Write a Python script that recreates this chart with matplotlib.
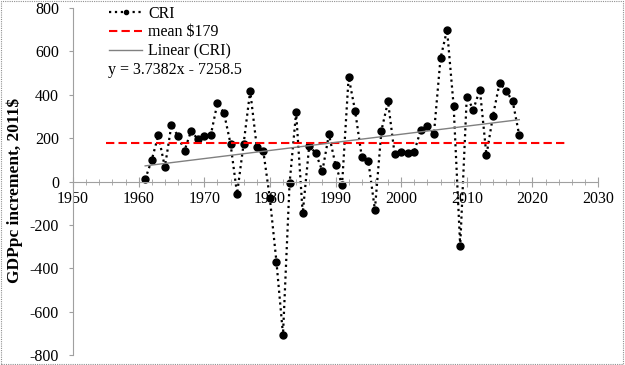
import numpy as np
import matplotlib
matplotlib.use("Agg")
import matplotlib.pyplot as plt
from matplotlib.ticker import MultipleLocator
from matplotlib.patches import Rectangle

plt.rcParams['font.family'] = ['Liberation Serif', 'DejaVu Serif']
plt.rcParams['font.size'] = 11.5
plt.rcParams['axes.unicode_minus'] = False

# data
years = np.arange(1961, 2019)
cri = [10, 100, 213, 66, 261, 209, 143, 234, 195, 209,
       215, 361, 317, 175, -57, 174, 418, 160, 140, -78,
       -370, -706, -9, 319, -147, 166, 130, 48, 217, 77,
       -15, 482, 324, 114, 95, -130, 235, 369, 128, 134,
       132, 138, 238, 255, 220, 568, 700, 349, -298, 390,
       332, 424, 121, 303, 455, 418, 370, 213]
mean_val = 179
mean_span = [1955, 2025]
slope, intercept = 3.7382, -7258.5

fig = plt.figure(figsize=(6.25, 3.65), dpi=100)
ax = fig.add_axes([0.1168, 0.0274, 0.84, 0.9506])

ax.plot(years, cri, color='black', linestyle=':', linewidth=1.6,
        marker='o', markersize=5, label='CRI')
ax.plot(mean_span, [mean_val, mean_val], color='red', linestyle='--',
        linewidth=1.5, dashes=(4, 2), label='mean $179')
trend_x = np.array([years[0], years[-1]])
ax.plot(trend_x, slope * trend_x + intercept, color='#808080',
        linewidth=1.0, label='Linear (CRI)')

ax.set_xlim(1950, 2030)
ax.set_ylim(-800, 800)
ax.xaxis.set_major_locator(MultipleLocator(10))
ax.xaxis.set_minor_locator(MultipleLocator(2))
ax.yaxis.set_major_locator(MultipleLocator(200))

ax.spines['top'].set_visible(False)
ax.spines['right'].set_visible(False)
ax.spines['bottom'].set_position(('data', 0))
ax.spines['bottom'].set_color('#a0a0a0')
ax.spines['bottom'].set_linestyle((0, (1, 1)))
ax.spines['left'].set_color('#a0a0a0')
ax.tick_params(axis='x', which='both', direction='inout', color='#a0a0a0',
               length=7, pad=3)
ax.tick_params(axis='x', which='minor', length=5)
ax.tick_params(axis='y', direction='out', color='#a0a0a0', length=3, pad=7)

ax.set_ylabel('GDPpc increment, 2011$', fontweight='bold', fontsize=12.5)
ax.yaxis.set_label_coords(-0.095, 0.473)

leg = ax.legend(loc='upper left', bbox_to_anchor=(0.053, 1.03), frameon=False,
                borderpad=0, handlelength=2.1, handletextpad=0.35,
                labelspacing=0.18, markerscale=0.6)
ax.text(0.0667, 0.821, 'y = 3.7382x - 7258.5', transform=ax.transAxes,
        ha='left', va='center')

fig.patches.append(Rectangle((0.002, 0.003), 0.995, 0.994, transform=fig.transFigure,
                             fill=False, edgecolor='#909090', linewidth=0.8,
                             linestyle=(0, (1, 1))))

fig.savefig('out.png', dpi=100)
